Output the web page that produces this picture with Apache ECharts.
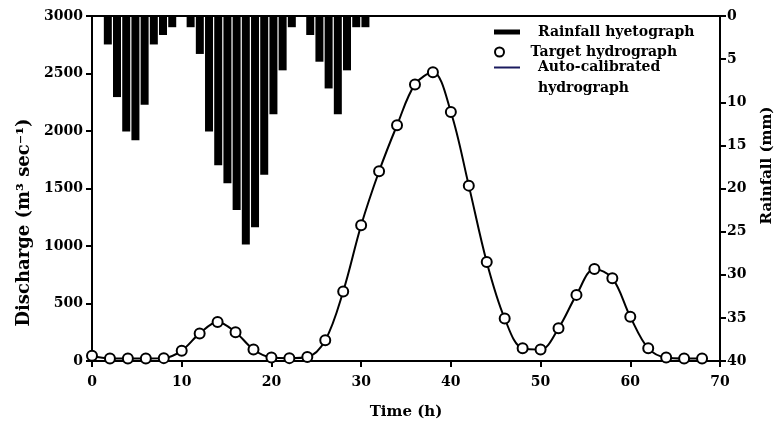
<!DOCTYPE html>
<html>
<head>
<meta charset="utf-8">
<script src="https://cdn.jsdelivr.net/npm/echarts@6/dist/echarts.min.js"></script>
<style>
html,body{margin:0;padding:0;background:#fff;}
#chart{width:775px;height:423px;}
</style>
</head>
<body>
<div id="chart"></div>
<script>
// Hydrograph time (h) and discharge (m3/s)
var times = [0,2,4,6,8,10,12,14,16,18,20,22,24,26,28,30,32,34,36,38,40,42,44,46,48,50,52,54,56,58,60,62,64,66,68];
var targetDischarge = [45,22,22,22,25,90,240,340,250,100,30,25,35,180,605,1180,1650,2050,2405,2510,2165,1525,860,370,110,100,285,575,800,720,385,110,30,22,22];
var calibratedDischarge = [45,22,22,22,25,90,240,340,250,100,30,25,35,180,605,1180,1650,2050,2405,2510,2165,1525,860,370,110,100,285,575,800,720,385,110,30,22,22];
// Rainfall hyetograph: hour index and rainfall (mm)
var rainHours = [1,2,3,4,5,6,7,8,9,10,11,12,13,14,15,16,17,18,19,20,21,22,23,24,25,26,27,28,29];
var rainfall = [3.3,9.4,13.4,14.4,10.3,3.3,2.2,1.3,0,1.3,4.4,13.4,17.3,19.4,22.5,26.5,24.5,18.4,11.4,6.3,1.3,0,2.2,5.3,8.4,11.4,6.3,1.3,1.3];
var dischargeTicks = [0,500,1000,1500,2000,2500,3000];
var rainTicks = [0,5,10,15,20,25,30,35,40];

var NAME_RAIN = 'Rainfall hyetograph';
var NAME_TARGET = 'Target hydrograph';
var NAME_CAL = '\nAuto-calibrated\nhydrograph';

var FONT = 'DejaVu Serif';
var txt = {fontFamily: FONT, fontWeight: 'bold', color: '#000'};

function legendAt(top, itemHeight, item, lh) {
  return {
    orient: 'vertical', left: 494, top: top, padding: 0,
    itemWidth: 26, itemHeight: itemHeight, itemGap: 0,
    textStyle: Object.assign({fontSize: 14, lineHeight: lh, padding: [0, 0, 0, 13]}, txt),
    selectedMode: false,
    data: [item]
  };
}

var chart = echarts.init(document.getElementById('chart'), null, {renderer: 'canvas'});
chart.setOption({
  animation: false,
  backgroundColor: '#fff',
  grid: {left: 92, right: 55, top: 16, bottom: 62, containLabel: false, outerBoundsMode: 'none'},
  legend: [
    legendAt(22, 5, {name: NAME_RAIN, icon: 'rect'}, 20),
    legendAt(42, 9, {name: NAME_TARGET, icon: 'circle'}, 20),
    legendAt(36, 2, {name: NAME_CAL, icon: 'rect', itemStyle: {color: '#1a1a5e'}}, 21)
  ],
  xAxis: [{
    type: 'value', min: 0, max: 70, interval: 10, position: 'bottom',
    name: 'Time (h)', nameLocation: 'middle', nameGap: 44,
    nameTextStyle: Object.assign({fontSize: 15}, txt),
    axisLine: {show: true, onZero: false, lineStyle: {color: '#000', width: 2}},
    axisTick: {show: true, inside: false, length: 6, lineStyle: {color: '#000', width: 2}},
    axisLabel: Object.assign({fontSize: 14, margin: 14}, txt),
    splitLine: {show: false}
  }, {
    type: 'value', min: -0.72, max: 67.54, position: 'top',
    axisLine: {show: true, onZero: false, lineStyle: {color: '#000', width: 2}},
    axisTick: {show: false}, axisLabel: {show: false}, splitLine: {show: false}
  }],
  yAxis: [{
    type: 'value', min: 0, max: 3000, interval: 500, position: 'left',
    name: 'Discharge (m³ sec⁻¹)', nameLocation: 'middle', nameGap: 58, nameRotate: 90,
    nameTextStyle: Object.assign({fontSize: 18, padding: [0, 68, 0, 0]}, txt),
    axisLine: {show: true, onZero: false, lineStyle: {color: '#000', width: 2}},
    axisTick: {show: true, length: 6, lineStyle: {color: '#000', width: 2}},
    axisLabel: Object.assign({fontSize: 14, margin: 9, formatter: function (v) { return String(v); }}, txt),
    splitLine: {show: false}
  }, {
    type: 'value', min: 0, max: 40, interval: 5, inverse: true, position: 'right',
    name: 'Rainfall (mm)', nameLocation: 'middle', nameGap: 40, nameRotate: 90,
    nameTextStyle: Object.assign({fontSize: 15, padding: [0, 0, 0, 46]}, txt),
    axisLine: {show: true, onZero: false, lineStyle: {color: '#000', width: 2}},
    axisTick: {show: true, length: 6, lineStyle: {color: '#000', width: 2}},
    axisLabel: Object.assign({fontSize: 14, margin: 7}, txt),
    splitLine: {show: false}
  }],
  series: [{
    name: NAME_RAIN, type: 'bar', xAxisIndex: 1, yAxisIndex: 1,
    barWidth: 8,
    itemStyle: {color: '#000'},
    data: rainHours.map(function (h, i) { return [h, rainfall[i]]; })
  }, {
    name: NAME_CAL, type: 'line', xAxisIndex: 0, yAxisIndex: 0,
    smooth: 0.35, symbol: 'none', z: 3,
    lineStyle: {color: '#000', width: 2},
    itemStyle: {color: '#1a1a5e'},
    data: times.map(function (t, i) { return [t, calibratedDischarge[i]]; })
  }, {
    name: NAME_TARGET, type: 'scatter', xAxisIndex: 0, yAxisIndex: 0,
    symbol: 'circle', symbolSize: 10, z: 4,
    itemStyle: {color: '#fff', borderColor: '#000', borderWidth: 2, opacity: 1},
    data: times.map(function (t, i) { return [t, targetDischarge[i]]; })
  }]
});
</script>
</body>
</html>
